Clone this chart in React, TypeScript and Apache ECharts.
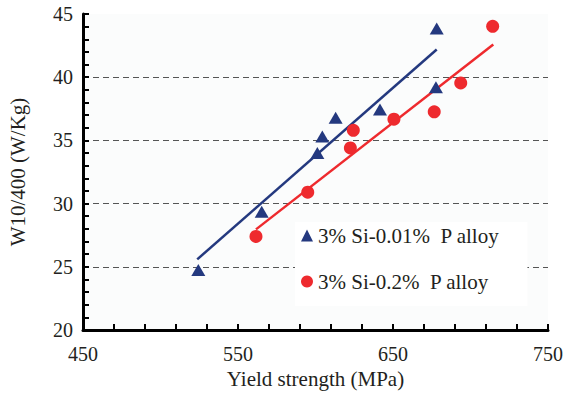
import React, { useEffect, useRef } from "react";
import * as echarts from "echarts";

const seriesNames = ["3% Si-0.01%  P alloy", "3% Si-0.2%  P alloy"];

// yield strength (MPa), W10/400 (W/Kg)
const lowPX = [524.4, 565.3, 601.2, 604.4, 613.0, 641.6, 677.7, 678.2];
const lowPY = [24.74, 29.35, 34.0, 35.3, 36.8, 37.45, 39.2, 43.85];

const highPX = [561.6, 595.0, 622.5, 624.4, 650.6, 676.6, 693.7, 714.3];
const highPY = [27.4, 30.9, 34.4, 35.8, 36.68, 37.26, 39.55, 44.03];

// fitted lines (endpoints)
const lowFitX = [523.7, 678.2];
const lowFitY = [25.59, 42.19];
const highFitX = [561.6, 714.7];
const highFitY = [27.96, 42.58];

const blue = "#24397f";
const red = "#ee2a2e";
const textColor = "#231f20";
const font = "Liberation Serif";

const zip = (xs: number[], ys: number[]) => xs.map((x, i) => [x, ys[i]]);

export default function App() {
  const ref = useRef<HTMLDivElement>(null);
  useEffect(() => {
    if (!ref.current) return;
    const chart = echarts.init(ref.current, null, { renderer: "svg" });
    chart.setOption({
      animation: false,
      backgroundColor: "#ffffff",
      textStyle: { fontFamily: font, color: textColor },
      grid: {
        left: 83,
        right: 15,
        top: 14,
        bottom: 75,
        show: true,
        backgroundColor: "#fbfcfc",
        borderWidth: 0,
        containLabel: false,
        outerBoundsMode: "none",
      },
      xAxis: {
        type: "value",
        min: 450,
        max: 750,
        interval: 100,
        name: "Yield strength (MPa)",
        nameLocation: "middle",
        nameGap: 37,
        nameTextStyle: { fontFamily: font, fontSize: 21, color: textColor },
        axisLine: { show: true, lineStyle: { color: "#000", width: 3 } },
        axisTick: { show: true, inside: true, length: 6, lineStyle: { color: "#000", width: 2 } },
        minorTick: { show: true, splitNumber: 5, length: 6, lineStyle: { color: "#000", width: 2 } },
        axisLabel: { fontFamily: font, fontSize: 20, color: textColor, margin: 14 },
        splitLine: { show: false },
      },
      yAxis: {
        type: "value",
        min: 20,
        max: 45,
        interval: 5,
        name: "W10/400 (W/Kg)",
        nameLocation: "middle",
        nameGap: 55,
        nameTextStyle: { fontFamily: font, fontSize: 21, color: textColor },
        axisLine: { show: true, lineStyle: { color: "#000", width: 3 } },
        axisTick: { show: true, inside: true, length: 6, lineStyle: { color: "#000", width: 2 } },
        minorTick: { show: true, splitNumber: 5, length: 6, lineStyle: { color: "#000", width: 2 } },
        axisLabel: { fontFamily: font, fontSize: 20, color: textColor, margin: 10, padding: [8, 0, 0, 0] },
        splitLine: {
          show: true,
          showMinLine: false,
          showMaxLine: false,
          lineStyle: { color: "#555", type: [6, 4], width: 1 },
        },
      },
      legend: {
        show: true,
        orient: "vertical",
        left: 295,
        top: 222,
        padding: [3, 28, 14, 6],
        itemGap: 25,
        itemWidth: 12,
        itemHeight: 12,
        backgroundColor: "#ffffff",
        textStyle: { fontFamily: font, fontSize: 21, color: textColor },
        data: [
          { name: seriesNames[0], icon: "triangle" },
          { name: seriesNames[1], icon: "circle" },
        ],
        selectedMode: false,
      },
      series: [
        {
          name: "fit-low",
          type: "line",
          data: zip(lowFitX, lowFitY),
          showSymbol: false,
          symbol: "none",
          lineStyle: { color: blue, width: 2.5 },
          itemStyle: { color: blue },
          z: 2,
        },
        {
          name: "fit-high",
          type: "line",
          data: zip(highFitX, highFitY),
          showSymbol: false,
          symbol: "none",
          lineStyle: { color: red, width: 2.5 },
          itemStyle: { color: red },
          z: 2,
        },
        {
          name: seriesNames[0],
          type: "scatter",
          symbol: "triangle",
          symbolSize: [14, 12],
          data: zip(lowPX, lowPY),
          itemStyle: { color: blue, opacity: 1 },
          z: 3,
        },
        {
          name: seriesNames[1],
          type: "scatter",
          symbol: "circle",
          symbolSize: 13,
          data: zip(highPX, highPY),
          itemStyle: { color: red, opacity: 1 },
          z: 3,
        },
      ],
    });
    return () => chart.dispose();
  }, []);
  return (
    <div style={{ position: "fixed", left: 0, top: 0, width: 563, height: 405 }}>
      <div ref={ref} style={{ width: 563, height: 405 }} />
    </div>
  );
}
